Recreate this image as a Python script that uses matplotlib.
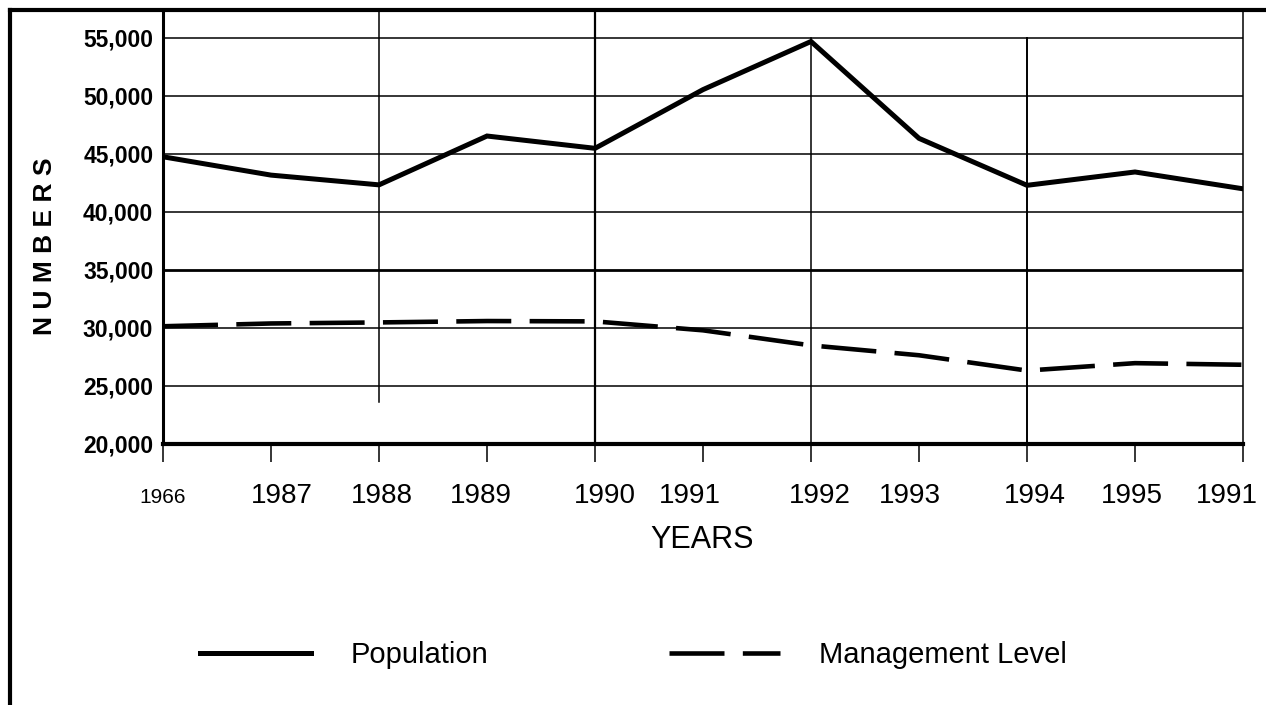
import matplotlib
matplotlib.use('Agg')
import matplotlib.pyplot as plt
from matplotlib.lines import Line2D
from matplotlib import font_manager as fm

# ---------------- data ----------------
years = ['1966', '1987', '1988', '1989', '1990', '1991', '1992', '1993', '1994', '1995', '1991']
population = [44760, 43180, 42340, 46550, 45490, 50550, 54700, 46350, 42300, 43450, 42000]
management = [30150, 30390, 30480, 30600, 30570, 29800, 28500, 27650, 26330, 26970, 26830]
y_ticks = [20000, 25000, 30000, 35000, 40000, 45000, 50000, 55000]
y_tick_labels = ['20,000', '25,000', '30,000', '35,000', '40,000', '45,000', '50,000', '55,000']
series_names = ['Population', 'Management Level']
x_title = 'YEARS'
y_title = 'NUMBERS'

# ---------------- styling ----------------
names = {f.name for f in fm.fontManager.ttflist}
NARROW = 'Liberation Sans Narrow' if 'Liberation Sans Narrow' in names else None
REG = 'Liberation Sans'

W, H = 1266, 705
fig = plt.figure(figsize=(W / 100, H / 100), dpi=100)
fig.patch.set_facecolor('white')

ax_left, ax_right, ax_top, ax_bot = 163, 1243, 10, 444
ax = fig.add_axes([ax_left / W, 1 - ax_bot / H, (ax_right - ax_left) / W, (ax_bot - ax_top) / H])
ax.set_facecolor('white')

x = list(range(len(years)))
ax.set_xlim(0, len(years) - 1)
y_top = 55000 + (38 - ax_top) * (35000 / (ax_bot - 38))
ax.set_ylim(20000, y_top)

# horizontal grid lines
for yv in y_ticks[1:]:
    ax.axhline(yv, color='black', lw=2.0 if yv == 35000 else 1.1, zorder=1)

# vertical grid lines at selected years (index positions)
v_idx = [2, 4, 6, 8]
v_spans = [(0.097, 1.0), (0.0, 1.0), (0.0, 0.935), (0.0, 0.935)]
v_lw = [1.1, 1.6, 1.1, 1.4]
for i, (a, b), w in zip(v_idx, v_spans, v_lw):
    ax.axvline(i, ymin=a, ymax=b, color='black', lw=w, zorder=1)

# series
ax.plot(x, population, color='black', lw=3.6, solid_joinstyle='miter',
        label=series_names[0], zorder=3)
ax.plot(x, management, color='black', lw=3.3, dashes=(12, 4), dash_capstyle='butt',
        label=series_names[1], zorder=3)

# spines
ax.spines['top'].set_visible(False)
ax.spines['left'].set_linewidth(2.2)
ax.spines['right'].set_linewidth(1.1)
ax.spines['bottom'].set_linewidth(3.0)
for s in ax.spines.values():
    s.set_color('black')
    s.set_zorder(4)

# y ticks
ax.set_yticks(y_ticks, labels=y_tick_labels)
ax.tick_params(axis='y', length=0, pad=7)
for lab in ax.get_yticklabels():
    lab.set_fontfamily(REG)
    lab.set_fontweight('bold')
    lab.set_fontsize(16.5)

# x ticks: major = marks, minor = labels
ax.xaxis.remove_overlapping_locs = False
ax.set_xticks(x, labels=[''] * len(x))
ax.tick_params(axis='x', which='major', length=13, width=1.1, direction='out', color='black')
label_pos = [0.0, 1.10, 2.03, 2.94, 4.09, 4.88, 6.08, 6.92, 8.07, 8.97, 9.85]
ax.set_xticks(label_pos, labels=years, minor=True)
ax.tick_params(axis='x', which='minor', length=0, pad=42.5)
for k, lab in enumerate(ax.get_xticklabels(minor=True)):
    lab.set_fontfamily(REG)
    lab.set_fontsize(20)
    lab.set_verticalalignment('baseline')
    if k == 0:
        if NARROW:
            lab.set_fontfamily(NARROW)
        else:
            lab.set_fontsize(15)

# titles
fig.text(45 / W, 1 - 246 / H, ' '.join(y_title), rotation=90, ha='center', va='center',
         fontsize=19, fontweight='bold', family=REG)
fig.text(702 / W, 1 - 540 / H, x_title, ha='center', va='center',
         fontsize=25 if NARROW else 22, family=NARROW or REG)

# outer frame lines
fig.add_artist(Line2D([10 / W, 1.0], [1 - 10 / H, 1 - 10 / H], color='black', lw=3.0))
fig.add_artist(Line2D([10 / W, 10 / W], [1 - 10 / H, 0.0], color='black', lw=3.0))

# legend
fs = 25 if NARROW else 21
leg = fig.legend(loc='center left', bbox_to_anchor=(200 / W, 1 - 655 / H), ncol=2,
                 frameon=False, borderpad=0, borderaxespad=0,
                 handlelength=3.8, handletextpad=1.35, columnspacing=6.2,
                 prop={'family': NARROW or REG, 'size': fs})

fig.savefig('out.png', dpi=100, facecolor='white')
